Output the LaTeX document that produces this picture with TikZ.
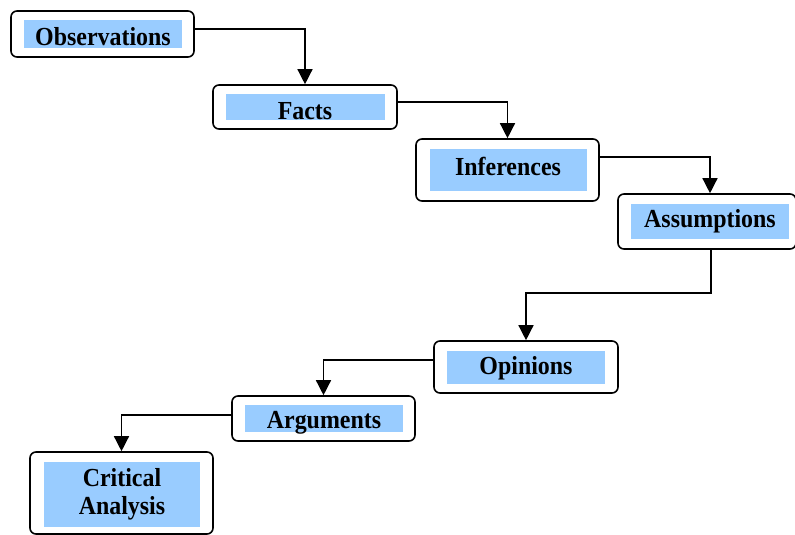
\documentclass[tikz,border=0pt]{standalone}
\usepackage{fontspec}
\setmainfont{Liberation Serif}[FakeStretch=0.92]
\usepackage{tikz}
\usetikzlibrary{arrows.meta,positioning}

\definecolor{panelblue}{RGB}{153,204,255}

\tikzset{
  stage/.style={draw, line width=1.6pt, rounded corners=6pt, fill=white, inner sep=0pt},
  panel/.style={fill=panelblue, inner sep=0pt},
  lbl/.style={font=\fontsize{26}{28}\selectfont\bfseries, align=center, inner sep=0pt},
  flow/.style={line width=1.4pt, -{Triangle[width=15pt,length=15pt]}}
}

\begin{document}
\begin{tikzpicture}[x=1pt,y=-1pt]
	\useasboundingbox (0,0) rectangle (795,535);
	% outer boxes
	\node[stage, minimum width=183, minimum height=46] (obs) at (102.5,34) {};
	\node[stage, minimum width=184, minimum height=44] (facts) at (305,107) {};
	\node[stage, minimum width=183, minimum height=62] (inf) at (507.5,170) {};
	\node[stage, minimum width=178, minimum height=55] (asm) at (707,221.5) {};
	\node[stage, minimum width=184, minimum height=52] (opi) at (526,367) {};
	\node[stage, minimum width=183, minimum height=45] (arg) at (323.5,418.5) {};
	\node[stage, minimum width=183, minimum height=82] (cri) at (121.5,493) {};
	% blue panels
	\node[panel, minimum width=158, minimum height=28] (obs-p) at (103,34) {};
	\node[panel, minimum width=159, minimum height=26] (facts-p) at (305.5,107) {};
	\node[panel, minimum width=157, minimum height=42] (inf-p) at (508.5,170) {};
	\node[panel, minimum width=158, minimum height=35] (asm-p) at (710,221.5) {};
	\node[panel, minimum width=158, minimum height=33] (opi-p) at (526,367.5) {};
	\node[panel, minimum width=158, minimum height=27] (arg-p) at (324,418.5) {};
	\node[panel, minimum width=156, minimum height=65] (cri-p) at (122,494.5) {};
	% labels
	\node[lbl] (obs-l) at (103,37) {Observations};
	\node[lbl] (facts-l) at (305,111) {Facts};
	\node[lbl] (inf-l) at (508,166) {Inferences};
	\node[lbl] (asm-l) at (710,221) {Assumptions};
	\node[lbl] (opi-l) at (526,368) {Opinions};
	\node[lbl] (arg-l) at (324,423) {Arguments};
	\node[lbl] (cri-l) at (122,494) {Critical\\Analysis};
	% connectors
	\draw[flow] ([yshift=5pt]obs.east) -| (facts.north);
	\draw[flow] ([yshift=5pt]facts.east) -| (inf.north);
	\draw[flow] ([yshift=13pt]inf.east) -| ([xshift=3pt]asm.north);
	\draw[flow] ([xshift=4pt]asm.south) -- ++(0,43) -| (opi.north);
	\draw[flow] ([yshift=7pt]opi.west) -| (arg.north);
	\draw[flow] ([yshift=3.5pt]arg.west) -| (cri.north);
\end{tikzpicture}
\end{document}
